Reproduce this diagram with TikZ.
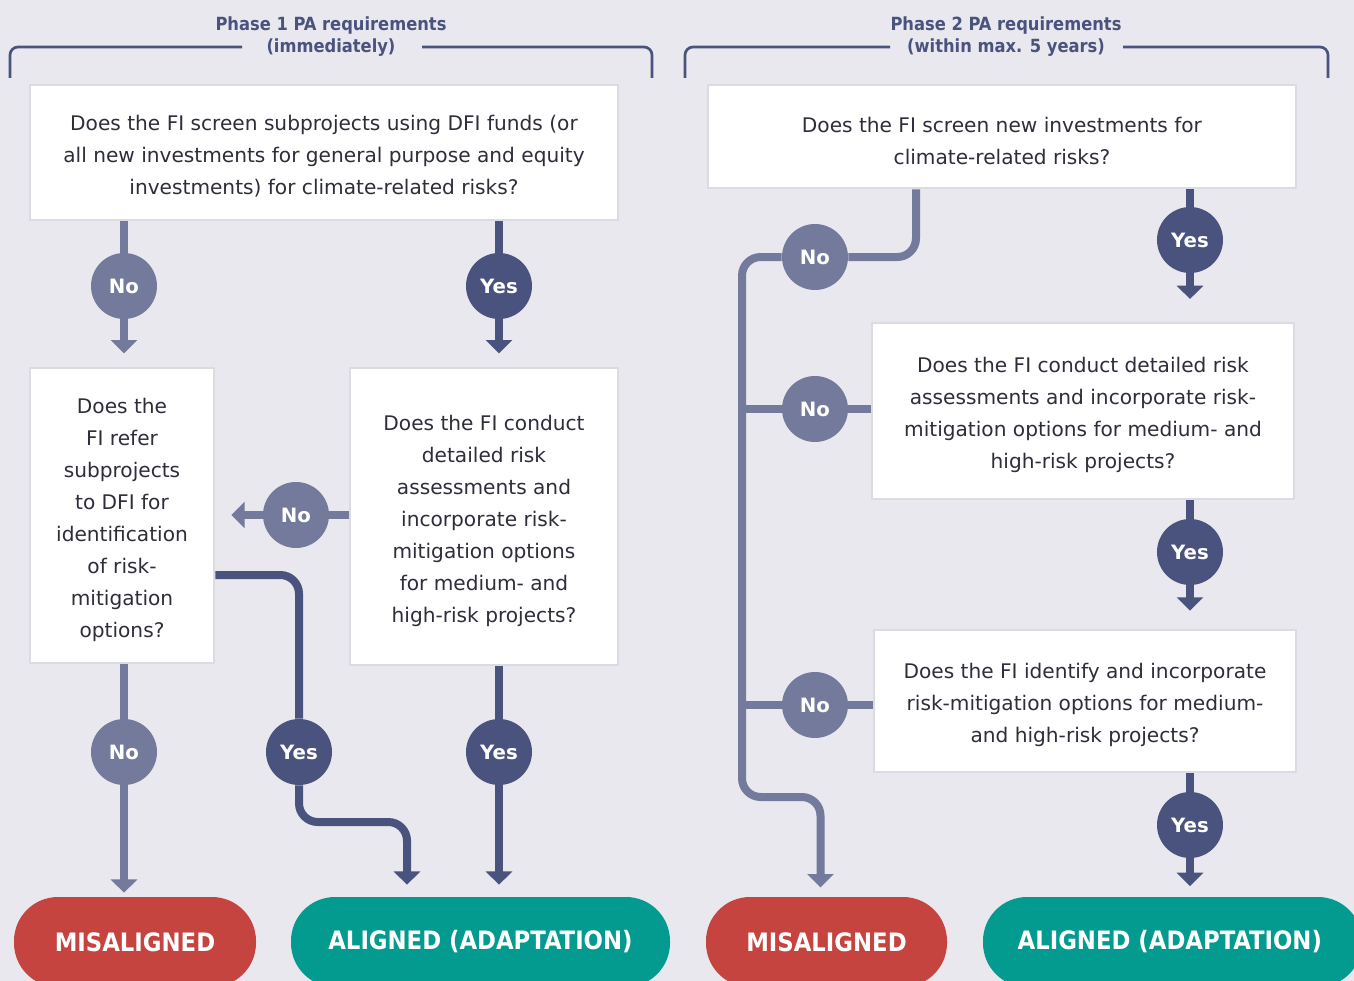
\documentclass[tikz,border=0pt]{standalone}
\usepackage{fontspec}
\setmainfont{DejaVu Sans}
\newfontfamily\condfont{DejaVu Sans Condensed}
\usetikzlibrary{arrows.meta,fit}
\definecolor{bgcol}{HTML}{E9E8EE}
\definecolor{navy}{HTML}{4A527E}
\definecolor{slate}{HTML}{737A9B}
\definecolor{misred}{HTML}{C5443F}
\definecolor{teal}{HTML}{039A8F}
\definecolor{textcol}{HTML}{2E2E3A}
\definecolor{boxedge}{HTML}{DCDBE4}
\tikzset{
    qbox/.style={draw=boxedge, line width=2pt, fill=white, inner sep=0pt},
    qtext/.style={align=center, text=textcol, inner sep=0pt, yshift=-3pt,
                  font=\fontsize{15.1}{24}\selectfont},
    nocirc/.style={circle, fill=slate, minimum size=49.5pt, inner sep=0pt,
                   text=white, font=\fontsize{14.8}{14.8}\selectfont\bfseries},
    yescirc/.style={nocirc, fill=navy},
    noline/.style={draw=slate, line width=6pt},
    yesline/.style={draw=navy, line width=6pt},
    arrowend/.style={-{Triangle[width=19.5pt,length=10pt]}},
    pill/.style={rounded corners=33pt, inner sep=0pt},
    pilltext/.style={inner sep=0pt, text=white, text height=13.8pt, text depth=0pt,
                     font=\fontsize{19}{19}\condfont\bfseries},
    phase/.style={text=navy, align=center,
                  font=\fontsize{13.6}{16.5}\condfont\bfseries},
    bracket/.style={draw=navy, line width=2pt, rounded corners=6pt}
}
\begin{document}
\begin{tikzpicture}[x=0.75pt, y=-0.75pt]

                \useasboundingbox (0, 0) rectangle (1354, 981);
                \fill[bgcol] (0, 0) rectangle (1354, 981);
                \clip (0, 0) rectangle (1354, 981);

                \node[phase] (ph1) at (331, 37) {Phase 1 PA requirements\\(immediately)};
                \node[phase] (ph2) at (1006, 37) {Phase 2 PA requirements\\(within max. 5 years)};
                \draw[bracket] (10, 78) |- (242, 47);
                \draw[bracket] (422, 47) -| (652, 78);
                \draw[bracket] (685, 78) |- (890, 47);
                \draw[bracket] (1123, 47) -| (1328, 78);

                \node[qbox, fit={(30, 85) (618, 220)}] (q1) {};
                \node[qtext] (q1t) at (q1.center)
                    {Does the FI screen subprojects using DFI funds (or\\
                     all new investments for general purpose and equity\\
                     investments) for climate-related risks?};
                \node[qbox, fit={(30, 368) (214, 663)}] (q2) {};
                \node[qtext] (q2t) at (q2.center)
                    {Does the\\FI refer\\subprojects\\to DFI for\\identification\\of risk-\\mitigation\\options?};
                \node[qbox, fit={(350, 368) (618, 665)}] (q3) {};
                \node[qtext] (q3t) at (q3.center)
                    {Does the FI conduct\\detailed risk\\assessments and\\incorporate risk-\\mitigation options\\for medium- and\\high-risk projects?};
                \node[qbox, fit={(708, 85) (1296, 188)}] (q4) {};
                \node[qtext] (q4t) at (q4.center)
                    {Does the FI screen new investments for\\climate-related risks?};
                \node[qbox, fit={(872, 323) (1294, 499)}] (q5) {};
                \node[qtext] (q5t) at (q5.center)
                    {Does the FI conduct detailed risk\\assessments and incorporate risk-\\mitigation options for medium- and\\high-risk projects?};
                \node[qbox, fit={(874, 630) (1296, 772)}] (q6) {};
                \node[qtext] (q6t) at (q6.center)
                    {Does the FI identify and incorporate\\risk-mitigation options for medium-\\and high-risk projects?};

                \node[pill, fill=misred, fit={(14, 897) (256, 987)}] (mis1) {};
                \node[pilltext] (mis1t) at (mis1.center) {MISALIGNED};
                \node[pill, fill=teal, fit={(291, 897) (670, 987)}] (al1) {};
                \node[pilltext] (al1t) at ([yshift=1.5pt]al1.center) {ALIGNED (ADAPTATION)};
                \node[pill, fill=misred, fit={(706, 897) (947, 987)}] (mis2) {};
                \node[pilltext] (mis2t) at (mis2.center) {MISALIGNED};
                \node[pill, fill=teal, fit={(983, 897) (1362, 987)}] (al2) {};
                \node[pilltext] (al2t) at ([yshift=1.5pt, xshift=-2pt]al2.center) {ALIGNED (ADAPTATION)};

                \node[nocirc] (no1) at (124, 286) {No};
                \node[yescirc] (yes1) at (499, 286) {Yes};
                \node[nocirc] (no2) at (296, 515) {No};
                \node[nocirc] (no3) at (124, 752) {No};
                \node[yescirc] (yes2) at (299, 752) {Yes};
                \node[yescirc] (yes3) at (499, 752) {Yes};
                \node[nocirc] (no4) at (815, 257) {No};
                \node[yescirc] (yes4) at (1190, 240) {Yes};
                \node[nocirc] (no5) at (815, 409) {No};
                \node[yescirc] (yes5) at (1190, 552) {Yes};
                \node[nocirc] (no6) at (815, 705) {No};
                \node[yescirc] (yes6) at (1190, 825) {Yes};

                \draw[noline] (q1.south -| no1) -- (no1);
                \draw[noline, arrowend, shorten >=10pt] (no1) -- (no1 |- q2.north);
                \draw[yesline] (q1.south -| yes1) -- (yes1);
                \draw[yesline, arrowend, shorten >=10pt] (yes1) -- (yes1 |- q3.north);
                \draw[noline] (q3.west |- no2) -- (no2);
                \draw[noline, arrowend, shorten >=12pt] (no2) -- (q2.east |- no2);
                \draw[noline] (q2.south -| no3) -- (no3);
                \draw[noline, arrowend, shorten >=3pt] (no3) -- (mis1.north -| no3);
                \draw[yesline,
                      rounded corners=14pt]
                    (q2.east |- 0, 575) -| (yes2);
                \draw[yesline,
                      arrowend,
                      rounded corners=14pt,
                      shorten >=9pt]
                    (yes2) |- (407, 822) -- (al1.north -| 407, 0);
                \draw[yesline] (q3.south -| yes3) -- (yes3);
                \draw[yesline, arrowend, shorten >=9pt] (yes3) -- (al1.north -| yes3);

                \draw[noline,
                      rounded corners=14pt]
                    (q4.south -| 916, 0) |- (no4);
                \draw[noline,
                      arrowend,
                      rounded corners=14pt,
                      shorten >=7pt]
                    (no4) -| (742, 797) -| ([xshift=-4.5pt]mis2.north);
                \draw[noline] (q5.west |- no5) -- (no5);
                \draw[noline] (no5) -- (no5 -| 742, 0);
                \draw[noline] (q6.west |- no6) -- (no6);
                \draw[noline] (no6) -- (no6 -| 742, 0);
                \draw[yesline] (q4.south -| yes4) -- (yes4);
                \draw[yesline, arrowend, shorten >=17pt] (yes4) -- (yes4 |- q5.north);
                \draw[yesline] (q5.south -| yes5) -- (yes5);
                \draw[yesline, arrowend, shorten >=13.5pt] (yes5) -- (yes5 |- q6.north);
                \draw[yesline] (q6.south -| yes6) -- (yes6);
                \draw[yesline, arrowend, shorten >=8pt] (yes6) -- (al2.north -| yes6);
            \end{tikzpicture}
\end{document}
